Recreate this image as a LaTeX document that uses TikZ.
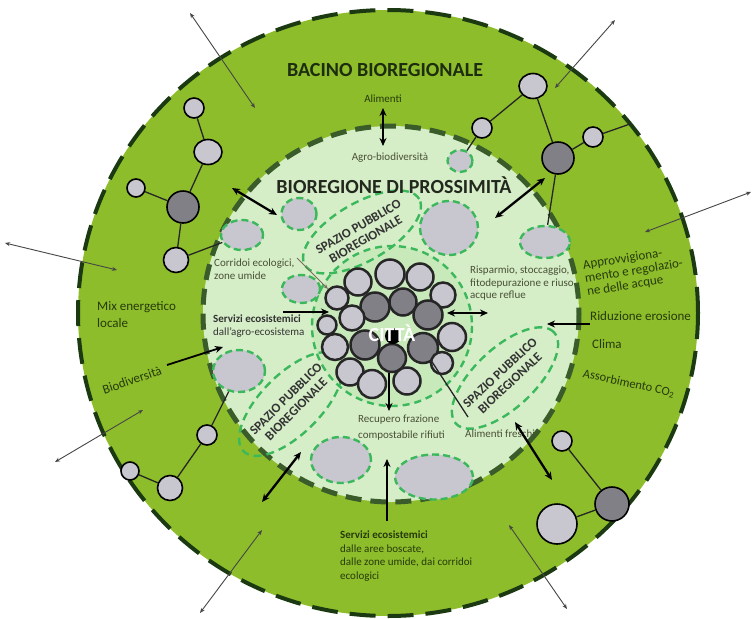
\documentclass[tikz,border=0pt]{standalone}
\usepackage{fontspec}
\setmainfont{Carlito}
\usetikzlibrary{arrows.meta,shapes.geometric}
\definecolor{ring}{RGB}{141,189,42}
\definecolor{innerg}{RGB}{214,238,200}
\definecolor{cityg}{RGB}{200,233,186}
\definecolor{outdash}{RGB}{28,58,18}
\definecolor{indash}{RGB}{58,92,42}
\definecolor{gdash}{RGB}{60,184,92}
\definecolor{lgray}{RGB}{200,198,206}
\definecolor{dgray}{RGB}{128,128,134}
\definecolor{txtin}{RGB}{72,80,52}
\definecolor{txtout}{RGB}{38,58,12}
\definecolor{thinarr}{RGB}{70,70,70}
\definecolor{corline}{RGB}{120,110,90}
\tikzset{
 grayell/.style={ellipse, fill=lgray, draw=gdash, line width=2.4pt, dash pattern=on 7pt off 4pt, inner sep=0pt},
 spell/.style={ellipse, draw=gdash, line width=2.4pt, dash pattern=on 8pt off 5pt, inner sep=0pt},
 sptxt/.style={align=center, font=\fontsize{13}{14.5}\selectfont\bfseries, text=black!80, inner sep=0pt},
 gnode/.style={circle, draw=black, line width=1.6pt, fill=lgray, inner sep=0pt},
 gdark/.style={gnode, fill=dgray},
 cnode/.style={circle, draw=black!85, line width=2.5pt, fill=lgray, inner sep=0pt},
 cdark/.style={cnode, fill=dgray},
 gedge/.style={line width=1.3pt, black!85},
 bigarr/.style={line width=2.3pt, black, arrows={Stealth[length=8pt,width=7pt]-Stealth[length=8pt,width=7pt]}},
 onearr/.style={line width=2.3pt, black, arrows={-Stealth[length=8pt,width=7pt]}},
 farr/.style={line width=0.9pt, thinarr, arrows={Stealth[length=5pt,width=4pt]-Stealth[length=5pt,width=4pt]}},
 lblin/.style={font=\fontsize{11}{12.5}\selectfont, text=txtin, align=left, inner sep=0pt},
 lblout/.style={font=\fontsize{13}{14}\selectfont, text=txtout, align=left, inner sep=0pt},
}
\begin{document}
\begin{tikzpicture}[x=1pt,y=-1pt]
\useasboundingbox (0,0) rectangle (753,619);
\fill[white] (0,0) rectangle (753,619);
% rings
\draw[fill=ring, draw=outdash, line width=4pt, dash pattern=on 26pt off 12pt] (388,313) ellipse [x radius=310, y radius=303];
\draw[fill=innerg, draw=indash, line width=5pt, dash pattern=on 16pt off 9pt] (391,314) circle [radius=188];
\draw[fill=cityg, draw=gdash, line width=2.4pt, dash pattern=on 7pt off 5pt] (392,326) circle [radius=80];
% gray ellipses
\node[grayell, minimum width=25pt, minimum height=22pt] (es) at (460,161) {};
\node[grayell, minimum width=35pt, minimum height=32pt] (e1) at (299,214) {};
\node[grayell, minimum width=42pt, minimum height=30pt] (e2) at (242,235) {};
\node[grayell, minimum width=38pt, minimum height=28pt] (e3) at (301,289) {};
\node[grayell, minimum width=58pt, minimum height=54pt] (eb) at (449,228) {};
\node[grayell, minimum width=50pt, minimum height=32pt] (er) at (545,242) {};
\node[grayell, minimum width=52pt, minimum height=42pt] (ell) at (239,371) {};
\node[grayell, minimum width=60pt, minimum height=46pt] (ebl) at (341,460) {};
\node[grayell, minimum width=78pt, minimum height=45pt] (ebr) at (434,477) {};
% spazio pubblico
\node[spell, minimum width=132pt, minimum height=58pt, rotate=30] (sp1) at (362,232) {};
\node[sptxt, rotate=30] (sp1t) at (362,233) {SPAZIO PUBBLICO\\BIOREGIONALE};
\node[spell, minimum width=134pt, minimum height=60pt, rotate=45] (sp2) at (291,404) {};
\node[sptxt, rotate=45] (sp2t) at (291,404) {SPAZIO PUBBLICO\\BIOREGIONALE};
\node[spell, minimum width=134pt, minimum height=60pt, rotate=43] (sp3) at (505,378) {};
\node[sptxt, rotate=43] (sp3t) at (505,378) {SPAZIO PUBBLICO\\BIOREGIONALE};
% city
\node[cnode, minimum size=27pt] (c1) at (358,282) {};
\node[cnode, minimum size=29pt] (c2) at (390,274) {};
\node[cnode, minimum size=27pt] (c3) at (420,277) {};
\node[cnode, minimum size=23pt] (c4) at (337,298) {};
\node[cdark, minimum size=29pt] (c5) at (375,307) {};
\node[cdark, minimum size=27pt] (c6) at (403,302) {};
\node[cnode, minimum size=25pt] (c7) at (443,295) {};
\node[cdark, minimum size=29pt] (c8) at (428,315) {};
\node[cnode, minimum size=25pt] (c9) at (352,318) {};
\node[cnode, minimum size=19pt] (c10) at (327,325) {};
\node[cdark, minimum size=29pt] (c11) at (365,345) {};
\node[cdark, minimum size=28pt] (c12) at (392,358) {};
\node[cnode, minimum size=28pt] (c13) at (452,337) {};
\node[cdark, minimum size=30pt] (c14) at (423,348) {};
\node[cnode, minimum size=26pt] (c15) at (335,347) {};
\node[cnode, minimum size=27pt] (c16) at (350,372) {};
\node[cnode, minimum size=28pt] (c17) at (372,384) {};
\node[cnode, minimum size=27pt] (c18) at (407,381) {};
\node[cnode, minimum size=22pt] (c19) at (442,363) {};
\node[circle, fill=black, minimum size=16pt, inner sep=0pt] (cblk) at (393,336) {};
\node[text=white, font=\fontsize{20}{20}\selectfont\bfseries, inner sep=0pt] (citta) at (392,333) {CITTÀ};
% graphs
\node[gnode, minimum size=20pt] (A) at (194,108) {};
\node[gnode, ellipse, minimum width=28pt, minimum height=25pt] (B) at (208,152) {};
\node[gnode, minimum size=18pt] (C) at (136,188) {};
\node[gdark, minimum size=32pt] (D) at (183,207) {};
\node[gnode, minimum size=25pt] (E) at (176,260) {};
\node[gnode, ellipse, minimum width=28pt, minimum height=25pt] (F) at (533,86) {};
\node[gnode, minimum size=20pt] (G) at (482,128) {};
\node[gnode, minimum size=20pt] (H) at (593,137) {};
\node[gdark, minimum size=32pt] (I) at (558,158) {};
\node[gnode, minimum size=20pt] (J) at (207,435) {};
\node[gnode, minimum size=25pt] (K) at (170,488) {};
\node[gnode, minimum size=18pt] (L) at (130,471) {};
\node[gnode, minimum size=20pt] (M) at (562,441) {};
\node[gdark, minimum size=34pt] (N) at (612,504) {};
\node[gnode, minimum size=40pt] (O) at (557,524) {};
\coordinate (hc) at (630,124);
\draw[gedge] (A) -- (B);
\draw[gedge] (B) -- (D);
\draw[gedge] (C) -- (D);
\draw[gedge] (D) -- (E);
\draw[gedge] (E) -- (e2);
\draw[gedge] (G) -- (F);
\draw[gedge] (F) -- (I);
\draw[gedge] (I) -- (H);
\draw[gedge] (H) -- (hc);
\draw[gedge] (I) -- (er);
\draw[gedge] (G) -- (es);
\draw[gedge] (J) -- (ell);
\draw[gedge] (J) -- (K);
\draw[gedge] (K) -- (L);
\draw[gedge] (M) -- (N);
\draw[gedge] (N) -- (O);
% labels
\node[font=\fontsize{20}{21}\selectfont\bfseries, text={rgb,255:red,30;green,45;blue,15}, inner sep=0pt] (bacino) at (385,70) {BACINO BIOREGIONALE};
\node[font=\fontsize{20}{21}\selectfont\bfseries, text={rgb,255:red,35;green,40;blue,30}, inner sep=0pt] (biopros) at (394,185) {BIOREGIONE DI PROSSIMITÀ};
\node[lblin, text=txtout] (alim) at (383,99) {Alimenti};
\node[lblin] (agro) at (390,158) {Agro-biodiversità};
\node[lblin, anchor=north west] (corr) at (214,259) {Corridoi ecologici,\\zone umide};
\node[lblin, anchor=north west, text=black!80] (servin) at (213,315) {\textbf{Servizi ecosistemici}\\dall'agro-ecosistema};
\node[lblin, anchor=north west] (risp) at (470,266) {Risparmio, stoccaggio,\\fitodepurazione e riuso\\acque reflue};
\node[lblin, anchor=north west, font=\fontsize{11}{15.5}\selectfont] (recup) at (358,415) {Recupero frazione\\compostabile rifiuti};
\node[lblin, anchor=north west] (frs) at (465,430) {Alimenti freschi};
\node[lblout, anchor=north west, font=\fontsize{13}{17}\selectfont] (mix) at (97,301) {Mix energetico\\locale};
\node[lblout, rotate=19] (biod) at (132,380) {Biodiversità};
\node[lblout, anchor=west, rotate=9, font=\fontsize{13}{13.5}\selectfont] (appr) at (585,279) {Approvvigiona-\\mento e regolazio-\\ne delle acque};
\node[lblout, anchor=west] (rid) at (590,316) {Riduzione erosione};
\node[lblout, anchor=west] (clima) at (592,344) {Clima};
\node[lblout, anchor=west, rotate=-12, font=\fontsize{12.5}{14}\selectfont] (assorb) at (583,374) {Assorbimento CO\textsubscript{2}};
\node[lblin, anchor=north west, font=\fontsize{11}{13.5}\selectfont, text=txtout] (servout) at (340,531) {\textbf{Servizi ecosistemici}\\dalle aree boscate,\\dalle zone umide, dai corridoi\\ecologici};
% thin outside arrows
\coordinate (f1a) at (190,13); \coordinate (f1b) at (255,108);
\coordinate (f2a) at (615,20); \coordinate (f2b) at (555,88);
\coordinate (f3a) at (751,192); \coordinate (f3b) at (645,232);
\coordinate (f4a) at (5,243); \coordinate (f4b) at (117,270);
\coordinate (f5a) at (55,462); \coordinate (f5b) at (143,410);
\coordinate (f6a) at (200,613); \coordinate (f6b) at (262,530);
\coordinate (f7a) at (567,609); \coordinate (f7b) at (509,525);
\draw[farr] (f1a) -- (f1b);
\draw[farr] (f2a) -- (f2b);
\draw[farr] (f3a) -- (f3b);
\draw[farr] (f4a) -- (f4b);
\draw[farr] (f5a) -- (f5b);
\draw[farr] (f6a) -- (f6b);
\draw[farr] (f7a) -- (f7b);
% thick arrows
\coordinate (t1a) at (383,108); \coordinate (t1b) at (383,146);
\coordinate (t2a) at (232,188); \coordinate (t2b) at (277,215);
\coordinate (t3a) at (545,178); \coordinate (t3b) at (495,218);
\coordinate (t4a) at (283,312); \coordinate (t4b) at (329,312);
\coordinate (t5a) at (447,313); \coordinate (t5b) at (488,313);
\coordinate (t6a) at (590,324); \coordinate (t6b) at (547,324);
\coordinate (t7a) at (262,502); \coordinate (t7b) at (301,452);
\coordinate (t8a) at (387,521); \coordinate (t8b) at (387,459);
\coordinate (t9a) at (389,373); \coordinate (t9b) at (389,411);
\coordinate (t10a) at (515,422); \coordinate (t10b) at (552,480);
\coordinate (bda) at (167,365); \coordinate (bdb) at (223,347);
\draw[bigarr] (t1a) -- (t1b);
\draw[bigarr] (t2a) -- (t2b);
\draw[bigarr] (t3a) -- (t3b);
\draw[onearr] (t4a) -- (t4b);
\draw[bigarr, line width=1.8pt] (t5a) -- (t5b);
\draw[onearr] (t6a) -- (t6b);
\draw[bigarr] (t7a) -- (t7b);
\draw[onearr] (t8a) -- (t8b);
\draw[onearr, line width=1.8pt] (t9a) -- (t9b);
\draw[bigarr] (t10a) -- (t10b);
\draw[onearr, line width=1.8pt] (bda) -- (bdb);
% thin lines
\coordinate (cora) at (297,258);
\draw[line width=0.9pt, corline, arrows={-Stealth[length=5pt,width=4pt]}] (cora) -- (c4);
\coordinate (csp) at (468,417);
\draw[line width=1.3pt, black!85] (c14) -- (csp);
\end{tikzpicture}
\end{document}
